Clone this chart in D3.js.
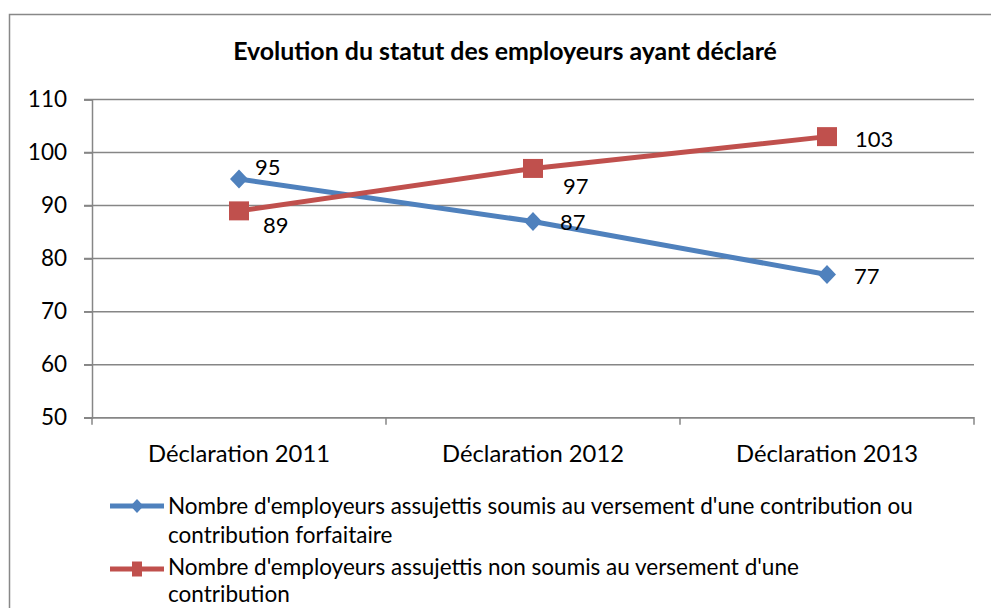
<!DOCTYPE html>
<html><head><meta charset="utf-8">
<script src="https://cdn.jsdelivr.net/npm/d3@7/dist/d3.min.js"></script>
<style>body{margin:0;background:#fff}svg{display:block}text{font-family:Lato,"Open Sans",sans-serif;fill:#000}</style>
</head><body><svg id="c" width="991" height="608"></svg>
<script>
const title = "Evolution du statut des employeurs ayant déclaré";
const categories = ["Déclaration 2011", "Déclaration 2012", "Déclaration 2013"];
const seriesNames = [
  ["Nombre d'employeurs assujettis soumis au versement d'une contribution ou", "contribution forfaitaire"],
  ["Nombre d'employeurs assujettis non soumis au versement d'une", "contribution"]
];
const seriesSoumis = [95, 87, 77];
const seriesNonSoumis = [89, 97, 103];
const yTicks = [50, 60, 70, 80, 90, 100, 110];

(function () {
const svg = d3.select("#c");
const colors = ["#4F81BD", "#C0504D"];
const pLeft = 92, pRight = 974, pTop = 99.5, pBottom = 417.7;

svg.append("path").attr("d", "M9.5,608 V14.5 H991").attr("fill", "none").attr("stroke", "#888").attr("stroke-width", 1.5);

const x = d3.scaleBand().domain(categories).range([pLeft, pRight]);
const y = d3.scaleLinear().domain([50, 110]).range([pBottom, pTop]);

function fit(sel, w) {
  const n = sel.node(); const fs = parseFloat(sel.attr("font-size"));
  const cw = n.getComputedTextLength(); const nf = fs * w / cw;
  sel.attr("font-size", nf); return nf;
}

const t = svg.append("text").attr("x", 505).attr("y", 60).attr("text-anchor", "middle")
  .attr("font-weight", "bold").attr("font-size", 17).text(title);
fit(t, 544);

svg.append("g").selectAll("line").data(yTicks).join("line")
  .attr("x1", pLeft - 8).attr("x2", pRight).attr("y1", d => y(d)).attr("y2", d => y(d))
  .attr("stroke", "#868686").attr("stroke-width", 1.5);

const ya = svg.append("g").attr("transform", `translate(${pLeft},0)`)
  .call(d3.axisLeft(y).tickValues(yTicks).tickSize(8).tickPadding(17));
ya.select(".domain").attr("stroke", "#868686").attr("stroke-width", 1.5);
ya.selectAll(".tick line").attr("stroke", "#868686").attr("stroke-width", 1.5);
ya.selectAll("text").attr("font-size", 22.5).attr("font-family", "Lato").attr("fill", "#000");

const xa = svg.append("g").attr("transform", `translate(0,${pBottom})`)
  .call(d3.axisBottom(x).tickSize(0).tickPadding(27));
xa.select(".domain").attr("stroke", "#868686").attr("stroke-width", 1.5).attr("d", `M${pLeft},7V0H${pRight}V7`);
xa.selectAll("text").attr("font-family", "Lato").attr("fill", "#000").attr("font-size", 20)
  .each(function () { fit(d3.select(this), 182); });
svg.append("g").selectAll("line").data(categories.slice(1)).join("line")
  .attr("x1", d => x(d)).attr("x2", d => x(d)).attr("y1", pBottom).attr("y2", pBottom + 7)
  .attr("stroke", "#868686").attr("stroke-width", 1.5);

const cx = d => x(d) + x.bandwidth() / 2;
const line = d3.line().x((d, i) => cx(categories[i])).y(d => y(d));
const data = [seriesSoumis, seriesNonSoumis];
const diamond = (w, h) => `M0,${-h}L${w},0L0,${h}L${-w},0Z`;
const rect = (w, h) => `M${-w},${-h}H${w}V${h}H${-w}Z`;
const sym = [diamond(9, 9.5), rect(10, 9.5)];
const legSym = [diamond(6.5, 7), rect(5, 7.5)];

data.forEach((s, k) => {
  svg.append("path").datum(s).attr("d", line).attr("fill", "none")
    .attr("stroke", colors[k]).attr("stroke-width", 5).attr("stroke-linejoin", "round");
  svg.append("g").selectAll("path").data(s).join("path")
    .attr("transform", (d, i) => `translate(${cx(categories[i])},${y(d)})`)
    .attr("d", sym[k]).attr("fill", colors[k]);
});

const labelOffsets = [[[16, -4], [27, 9], [27, 9]], [[24, 22], [30, 26], [28, 10]]];
data.forEach((s, k) => {
  svg.append("g").selectAll("text").data(s).join("text")
    .attr("x", (d, i) => cx(categories[i]) + labelOffsets[k][i][0])
    .attr("y", (d, i) => y(d) + labelOffsets[k][i][1])
    .attr("font-size", 22).text(d => d);
});

const legY = [506, 569];
const legBase = [514, 575];
const legGap = [29, 27];
seriesNames.forEach((lines, k) => {
  const g = svg.append("g");
  g.append("line").attr("x1", 110).attr("x2", 164).attr("y1", legY[k]).attr("y2", legY[k])
    .attr("stroke", colors[k]).attr("stroke-width", 5);
  g.append("path").attr("transform", `translate(137,${legY[k]})`).attr("d", legSym[k]).attr("fill", colors[k]);
  let fs = 18;
  lines.forEach((tx, j) => {
    const el = g.append("text").attr("x", 168).attr("y", legBase[k] + j * legGap[k]).attr("font-size", fs).text(tx);
    if (j === 0) fs = fit(el, k === 0 ? 745 : 631);
  });
});
})();
</script></body></html>
